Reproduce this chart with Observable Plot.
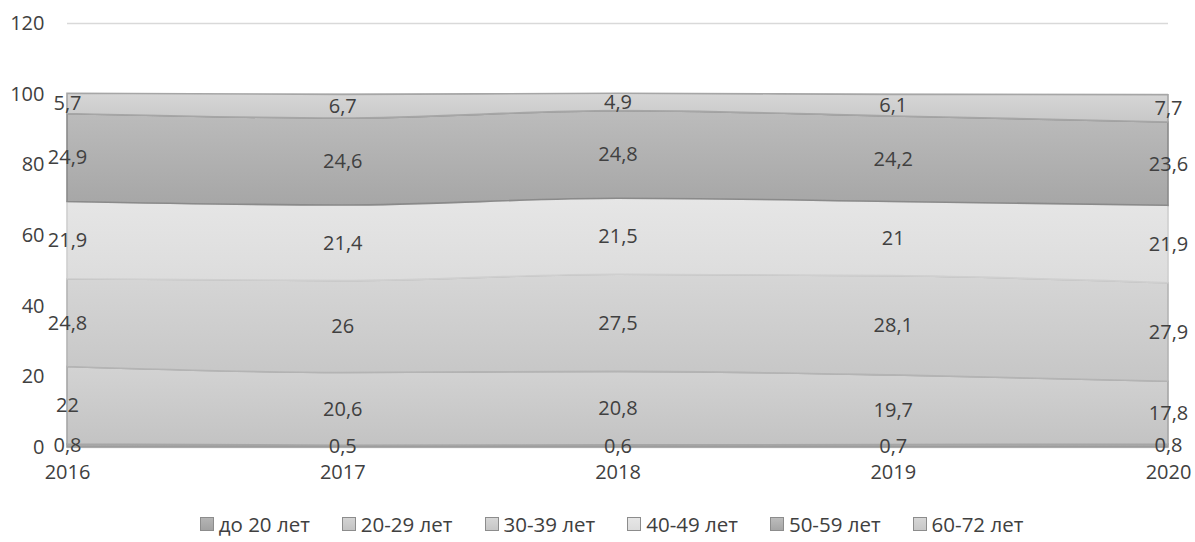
<!DOCTYPE html>
<html>
<head>
<meta charset="utf-8">
<script src="https://cdn.jsdelivr.net/npm/d3@7"></script>
<script src="https://cdn.jsdelivr.net/npm/@observablehq/plot@0.6"></script>
<style>
  html, body { margin: 0; padding: 0; background: #fff; }
  #chart { width: 1195px; font-family: "Open Sans", sans-serif; }
  .legend { display: flex; justify-content: center; gap: 32px; font-family: "Open Sans", sans-serif; font-size: 20.5px; color: #404040; height: 37px; align-items: center; padding-left: 28px; margin-top: 4px; }
  .legend span.item { display: flex; align-items: center; gap: 5px; }
  .legend span.sw { width: 12px; height: 12px; border: 1px solid #8c8c8c; display: inline-block; }
</style>
</head>
<body>
<div id="chart"></div>
<script>
const years = [2016, 2017, 2018, 2019, 2020];
const series = ["до 20 лет", "20-29 лет", "30-39 лет", "40-49 лет", "50-59 лет", "60-72 лет"];
const v_under20 = [0.8, 0.5, 0.6, 0.7, 0.8];
const v_20_29 = [22, 20.6, 20.8, 19.7, 17.8];
const v_30_39 = [24.8, 26, 27.5, 28.1, 27.9];
const v_40_49 = [21.9, 21.4, 21.5, 21, 21.9];
const v_50_59 = [24.9, 24.6, 24.8, 24.2, 23.6];
const v_60_72 = [5.7, 6.7, 4.9, 6.1, 7.7];
const yTicks = [0, 20, 40, 60, 80, 100, 120];

const values = [v_under20, v_20_29, v_30_39, v_40_49, v_50_59, v_60_72];
const gradTop = ["#b4b4b4", "#d3d3d3", "#d6d6d6", "#e6e6e6", "#bcbcbc", "#d6d6d6"];
const gradBot = ["#a2a2a2", "#c3c3c3", "#c6c6c6", "#dcdcdc", "#a6a6a6", "#c8c8c8"];
const strokes = ["#9a9a9a", "#a6a6a6", "#b4b4b4", "#cfcfcf", "#8a8a8a", "#a6a6a6"];

const long = [];
series.forEach((s, i) => years.forEach((y, j) => long.push({series: s, year: y, value: values[i][j]})));
const fmt = v => String(v).replace(".", ",");

const W = 1195, H = 501;
const plot = Plot.plot({
  width: W,
  height: H,
  marginLeft: 67,
  marginRight: 27,
  marginTop: 23,
  marginBottom: H - 447,
  style: {fontFamily: "Open Sans, sans-serif", fontSize: "20px", color: "#404040", background: "#fff", overflow: "visible"},
  x: {domain: [2016, 2020], ticks: years, tickFormat: d => String(d), tickSize: 0, tickPadding: 17, label: null},
  y: {domain: [0, 120], ticks: yTicks, tickSize: 0, tickPadding: 23, label: null},
  color: {domain: series, range: series.map((s, i) => `url(#g${i})`)},
  marks: [
    Plot.gridY(yTicks, {stroke: "#d9d9d9", strokeOpacity: 1, strokeWidth: 1.3}),
    Plot.areaY(long, {x: "year", y: "value", z: "series", fill: "series", curve: "monotone-x"}),
    Plot.text(long, Plot.stackY({x: "year", y: "value", z: "series", text: d => fmt(d.value), fill: "#404040", fontSize: 20}))
  ]
});

// gradients
let defs = "<defs>";
series.forEach((s, i) => {
  defs += `<linearGradient id="g${i}" x1="0" y1="0" x2="0" y2="1"><stop offset="0" stop-color="${gradTop[i]}"/><stop offset="1" stop-color="${gradBot[i]}"/></linearGradient>`;
});
defs += "</defs>";
plot.insertAdjacentHTML("afterbegin", defs);
// stroke the areas per series
plot.querySelectorAll("path").forEach(p => {
  const f = p.getAttribute("fill");
  if (f && f.startsWith("url(#g")) {
    const i = +f.slice(6, -1);
    p.setAttribute("stroke", strokes[i]);
    p.setAttribute("stroke-width", "1.6");
  }
});
document.getElementById("chart").appendChild(plot);

const legend = document.createElement("div");
legend.className = "legend";
series.forEach((s, i) => {
  const item = document.createElement("span");
  item.className = "item";
  item.innerHTML = `<span class="sw" style="background:linear-gradient(${gradTop[i]}, ${gradBot[i]})"></span><span>${s}</span>`;
  legend.appendChild(item);
});
document.getElementById("chart").appendChild(legend);
</script>
</body>
</html>
